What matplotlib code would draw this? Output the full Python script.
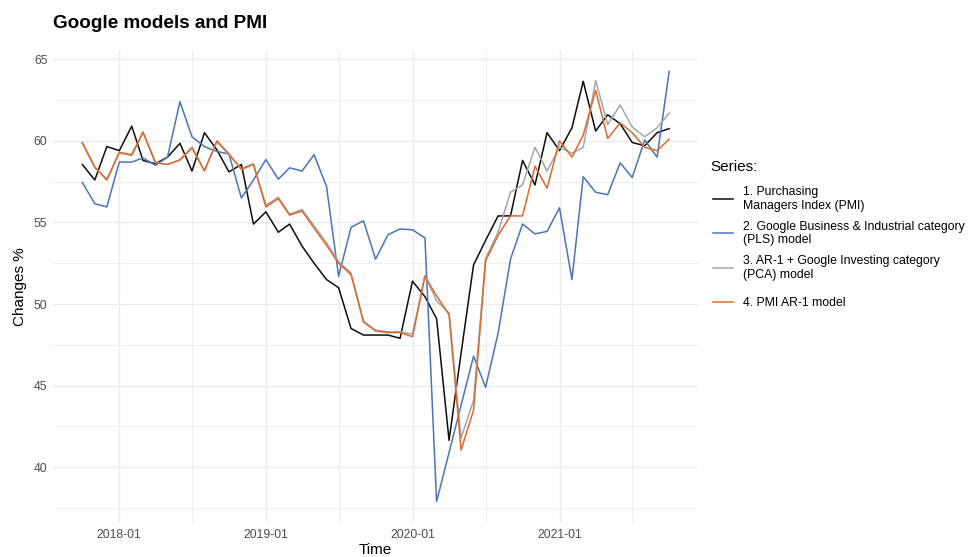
import numpy as np
import pandas as pd
import matplotlib
matplotlib.use('Agg')
import matplotlib.pyplot as plt
import matplotlib.dates as mdates
from matplotlib.lines import Line2D

plt.rcParams['font.family'] = ['Liberation Sans', 'DejaVu Sans']

# monthly observations, 2017-10 .. 2021-10
months = pd.date_range('2017-10-01', '2021-10-01', freq='MS')

pmi = [58.55, 57.6, 59.65, 59.4, 60.9, 58.8, 58.6, 59.0, 59.85, 58.15,
       60.5, 59.45, 58.1, 58.55, 54.9, 55.65, 54.4, 54.9, 53.55, 52.5,
       51.5, 51.0, 48.5, 48.1, 48.1, 48.1, 47.9, 51.4, 50.45, 49.1,
       41.65, 47.0, 52.4, 53.9, 55.4, 55.4, 58.8, 57.3, 60.5, 59.4,
       60.8, 63.65, 60.6, 61.6, 61.05, 59.9, 59.7, 60.5, 60.75]

pls = [57.45, 56.15, 55.95, 58.7, 58.7, 58.95, 58.5, 59.0, 62.4, 60.25,
       59.65, 59.35, 59.2, 56.5, 57.6, 58.85, 57.65, 58.35, 58.15, 59.15,
       57.2, 51.7, 54.7, 55.1, 52.75, 54.25, 54.6, 54.55, 54.05, 37.9,
       40.9, 43.8, 46.8, 44.9, 48.2, 52.75, 54.9, 54.3, 54.45, 55.9,
       51.5, 57.8, 56.85, 56.7, 58.65, 57.75, 60.05, 59.0, 64.25]

pca = [59.85, 58.35, 57.65, 59.25, 59.1, 60.5, 58.7, 58.55, 58.8, 59.55,
       58.2, 59.95, 59.15, 58.3, 58.6, 56.05, 56.55, 55.5, 55.8, 54.8,
       53.75, 52.6, 51.9, 48.95, 48.4, 48.3, 48.3, 48.15, 51.75, 50.2,
       49.45, 41.8, 44.1, 52.8, 54.4, 56.85, 57.3, 59.6, 58.15, 59.6,
       59.25, 59.6, 63.7, 61.0, 62.2, 60.85, 60.25, 60.8, 61.7]

ar1 = [59.9, 58.4, 57.6, 59.3, 59.15, 60.55, 58.65, 58.55, 58.85, 59.6,
       58.15, 60.0, 59.2, 58.25, 58.55, 55.95, 56.45, 55.45, 55.7, 54.65,
       53.6, 52.5, 51.8, 48.9, 48.35, 48.25, 48.25, 48.0, 51.7, 50.5,
       49.35, 41.05, 43.5, 52.65, 54.2, 55.4, 55.4, 58.45, 57.1, 60.0,
       59.0, 60.35, 63.1, 60.15, 61.1, 60.5, 59.6, 59.4, 60.1]

series_labels = ['1. Purchasing\nManagers Index (PMI)',
                 '2. Google Business & Industrial category\n(PLS) model',
                 '3. AR-1 + Google Investing category\n(PCA) model',
                 '4. PMI AR-1 model']
series_colors = ['#0d0d0d', '#4a74bd', '#a6a6a6', '#dc6a2d']

fig = plt.figure(figsize=(9.7, 5.57), dpi=100)
W, H = 970, 557
ax = fig.add_axes([53 / W, (H - 523) / H, (698.5 - 53) / W, (523 - 50) / H])

for vals, col in zip([pmi, pls, pca, ar1], series_colors):
    ax.plot(months, vals, color=col, lw=1.1, solid_joinstyle='round')

# ggplot-like 5% expansion
span = months[-1] - months[0]
ax.set_xlim(months[0] - span * 0.05, months[-1] + span * 0.05)
allv = np.concatenate([pmi, pls, pca, ar1])
rng = allv.max() - allv.min()
ax.set_ylim(allv.min() - rng * 0.05, allv.max() + rng * 0.05)

ax.xaxis.set_major_locator(mdates.YearLocator())
ax.xaxis.set_minor_locator(mdates.MonthLocator(bymonth=7))
ax.xaxis.set_major_formatter(mdates.DateFormatter('%Y-%m'))
ax.set_yticks([40, 45, 50, 55, 60, 65])
ax.set_yticks(np.arange(37.5, 65, 5), minor=True)

ax.grid(which='major', color='#ebebeb', lw=1.0)
ax.grid(which='minor', color='#ebebeb', lw=0.6)
ax.set_axisbelow(True)
for s in ax.spines.values():
    s.set_visible(False)
ax.tick_params(which='both', length=0)
ax.tick_params(axis='x', pad=4, labelsize=8.8, labelcolor='#4d4d4d')
ax.tick_params(axis='y', pad=4, labelsize=8.8, labelcolor='#4d4d4d')

ax.set_xlabel('Time', fontsize=11, labelpad=2)
ax.set_ylabel('Changes %', fontsize=11, labelpad=5)

fig.text(53 / W, 1 - 28 / H, 'Google models and PMI', fontsize=13.6,
         fontweight='bold', va='baseline', ha='left')

# legend
fig.text(710 / W, 1 - 167 / H, 'Series:', fontsize=11, va='center', ha='left')
key_y = [198.5, 233, 267.5, 302]
for lab, col, ky in zip(series_labels, series_colors, key_y):
    fig.add_artist(Line2D([713 / W, 733 / W], [1 - ky / H, 1 - ky / H],
                          color=col, lw=1.1))
    fig.text(743 / W, 1 - (ky + 0.5) / H, lab, fontsize=8.8, va='center',
             ha='left', linespacing=1.2)

fig.savefig('out.png', dpi=100)
